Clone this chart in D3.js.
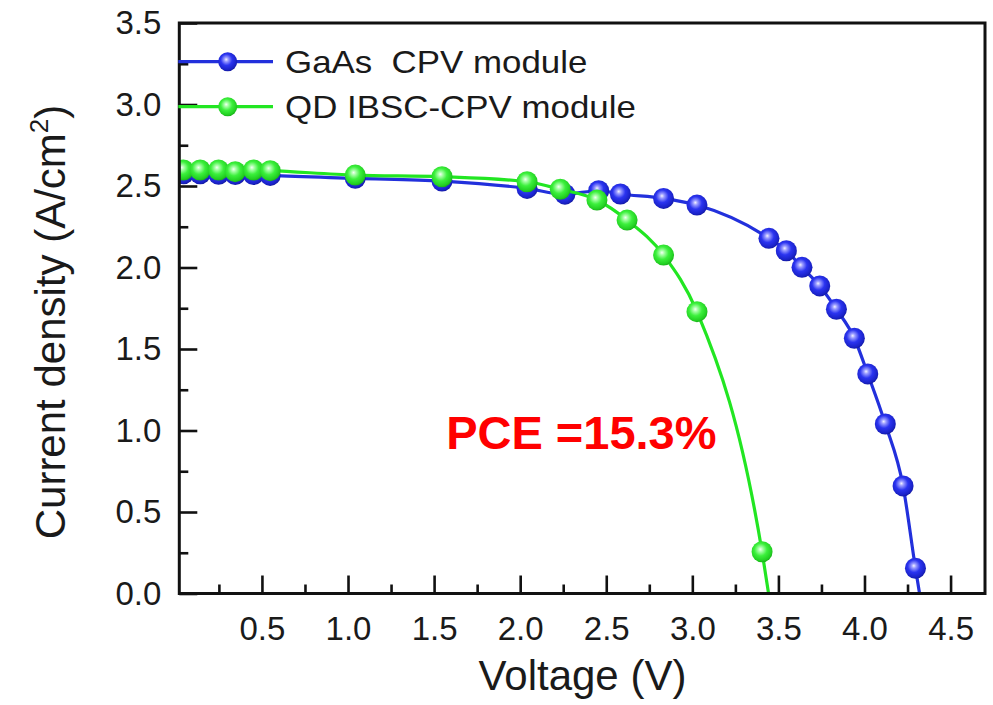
<!DOCTYPE html>
<html>
<head>
<meta charset="utf-8">
<script src="https://cdn.jsdelivr.net/npm/d3@7"></script>
<style>
  html, body { margin: 0; padding: 0; background: #fff; }
  svg { display: block; }
  text { font-family: "Liberation Sans", Arial, Helvetica, sans-serif; }
</style>
</head>
<body>
<svg id="chart" width="993" height="705"></svg>
<script>
// ---------------- data ----------------
const gaasV = [0.044, 0.141, 0.248, 0.345, 0.451, 0.548, 1.042, 1.546, 2.04, 2.26, 2.456, 2.582, 2.833, 3.027, 3.445, 3.546, 3.637, 3.74, 3.837, 3.941, 4.019, 4.121, 4.224, 4.296, 4.343];
const gaasJ = [2.575, 2.575, 2.572, 2.57, 2.57, 2.565, 2.547, 2.53, 2.485, 2.45, 2.471, 2.451, 2.424, 2.383, 2.179, 2.103, 2.001, 1.887, 1.744, 1.566, 1.347, 1.04, 0.66, 0.155, -0.15];
const qdV = [0.044, 0.141, 0.248, 0.345, 0.451, 0.548, 1.042, 1.546, 2.04, 2.233, 2.446, 2.621, 2.833, 3.027, 3.405, 3.465];
const qdJ = [2.598, 2.598, 2.598, 2.588, 2.598, 2.594, 2.567, 2.557, 2.526, 2.48, 2.414, 2.291, 2.076, 1.729, 0.256, -0.15];

const xMajorTicks = [0.5, 1.0, 1.5, 2.0, 2.5, 3.0, 3.5, 4.0, 4.5];
const xMinorTicks = [0.25, 0.75, 1.25, 1.75, 2.25, 2.75, 3.25, 3.75, 4.25];
const yMajorTicks = [0.0, 0.5, 1.0, 1.5, 2.0, 2.5, 3.0, 3.5];
const yMinorTicks = [0.25, 0.75, 1.25, 1.75, 2.25, 2.75, 3.25];

const seriesNames = ["GaAs  CPV module", "QD IBSC-CPV module"];
const xTitle = "Voltage (V)";
const yTitleMain = "Current density (A/cm";
const yTitleSup = "2";
const yTitleEnd = ")";
const annotation = "PCE =15.3%";
const annotationV = 1.57, annotationJ = 0.885;

// ---------------- layout ----------------
const svg = d3.select("#chart");
const pLeft = 179.3, pRight = 985, pTop = 23, pBottom = 593.5;

const x = d3.scaleLinear().domain([0.02, 4.70]).range([pLeft, pRight]);
const y = d3.scaleLinear().domain([0, 3.5]).range([pBottom, pTop]);

const blue = "#2230dc", green = "#22e622";

// gradients for 3D ball markers
const defs = svg.append("defs");
function ballGrad(id, stops) {
  const g = defs.append("radialGradient").attr("id", id)
    .attr("cx", "45%").attr("cy", "42%").attr("r", "60%").attr("fx", "42%").attr("fy", "38%");
  stops.forEach(s => g.append("stop").attr("offset", s[0]).attr("stop-color", s[1]));
}
ballGrad("gBlue", [["0%", "#f2f2ff"], ["18%", "#9a9cff"], ["50%", "#2b34f0"], ["85%", "#1a22c8"], ["100%", "#12189a"]]);
ballGrad("gGreen", [["0%", "#f4fff4"], ["18%", "#a8ffa8"], ["50%", "#3cf03c"], ["85%", "#22d022"], ["100%", "#18a818"]]);

defs.append("clipPath").attr("id", "plotClip")
  .append("rect").attr("x", pLeft).attr("y", pTop).attr("width", pRight - pLeft).attr("height", pBottom - pTop);

// ---------------- axes ----------------
const tickColor = "#111";
function styleAxis(g) {
  g.select(".domain").remove();
  g.selectAll(".tick line").attr("stroke", tickColor).attr("stroke-width", 2.6);
}

// x major
const gx = svg.append("g").attr("transform", `translate(0,${pBottom})`)
  .call(d3.axisBottom(x).tickValues(xMajorTicks).tickSizeInner(-18).tickSizeOuter(0).tickPadding(23)
    .tickFormat(d3.format(".1f")));
styleAxis(gx);
gx.selectAll(".tick text").attr("font-size", 33).attr("fill", "#1a1a1a");

// x minor
const gxm = svg.append("g").attr("transform", `translate(0,${pBottom})`)
  .call(d3.axisBottom(x).tickValues(xMinorTicks).tickSizeInner(-9).tickSizeOuter(0).tickFormat(""));
styleAxis(gxm);

// y major
const gy = svg.append("g").attr("transform", `translate(${pLeft},0)`)
  .call(d3.axisLeft(y).tickValues(yMajorTicks).tickSizeInner(-18).tickSizeOuter(0).tickPadding(18)
    .tickFormat(d3.format(".1f")));
styleAxis(gy);
gy.selectAll(".tick text").attr("font-size", 33).attr("fill", "#1a1a1a");

// y minor
const gym = svg.append("g").attr("transform", `translate(${pLeft},0)`)
  .call(d3.axisLeft(y).tickValues(yMinorTicks).tickSizeInner(-9).tickSizeOuter(0).tickFormat(""));
styleAxis(gym);

// ---------------- series ----------------
const plot = svg.append("g").attr("clip-path", "url(#plotClip)");
const line = d3.line().x(d => x(d[0])).y(d => y(d[1])).curve(d3.curveMonotoneX);

function drawSeries(V, J, color, grad) {
  const pts = V.map((v, i) => [v, J[i]]);
  plot.append("path").datum(pts).attr("d", line)
    .attr("fill", "none").attr("stroke", color).attr("stroke-width", 3.2);
  plot.selectAll(null).data(pts).enter().append("circle")
    .attr("cx", d => x(d[0])).attr("cy", d => y(d[1])).attr("r", 10.5)
    .attr("fill", `url(#${grad})`);
}
drawSeries(gaasV, gaasJ, blue, "gBlue");
drawSeries(qdV, qdJ, green, "gGreen");

// ---------------- frame ----------------
svg.append("rect").attr("x", pLeft).attr("y", pTop).attr("width", pRight - pLeft).attr("height", pBottom - pTop)
  .attr("fill", "none").attr("stroke", "#111").attr("stroke-width", 3);

// ---------------- legend ----------------
const legendColors = [[blue, "gBlue"], [green, "gGreen"]];
const legendY = [61.7, 106.7];
seriesNames.forEach((name, i) => {
  const ly = legendY[i];
  svg.append("line").attr("x1", pLeft - 1).attr("x2", 273).attr("y1", ly).attr("y2", ly)
    .attr("stroke", legendColors[i][0]).attr("stroke-width", 3.2);
  svg.append("circle").attr("cx", 227.7).attr("cy", ly).attr("r", 9.5)
    .attr("fill", `url(#${legendColors[i][1]})`);
  svg.append("text").attr("transform", `translate(285,${ly + 11.4}) scale(1.09,1)`)
    .attr("xml:space", "preserve").style("white-space", "pre")
    .attr("font-size", 32).attr("fill", "#1a1a1a").text(name);
});

// ---------------- titles ----------------
svg.append("text").attr("x", 582.5).attr("y", 690).attr("text-anchor", "middle")
  .attr("font-size", 42).attr("fill", "#1a1a1a").text(xTitle);

const yt = svg.append("text").attr("transform", "translate(65,322) rotate(-90)")
  .attr("text-anchor", "middle").attr("font-size", 42).attr("fill", "#1a1a1a");
yt.append("tspan").text(yTitleMain);
yt.append("tspan").attr("font-size", 26).attr("dy", -17).text(yTitleSup);
yt.append("tspan").attr("dy", 17).text(yTitleEnd);

// ---------------- annotation ----------------
svg.append("text").attr("x", x(annotationV)).attr("y", y(annotationJ))
  .attr("font-size", 47).attr("font-weight", "bold").attr("fill", "#ff0000").text(annotation);
</script>
</body>
</html>
